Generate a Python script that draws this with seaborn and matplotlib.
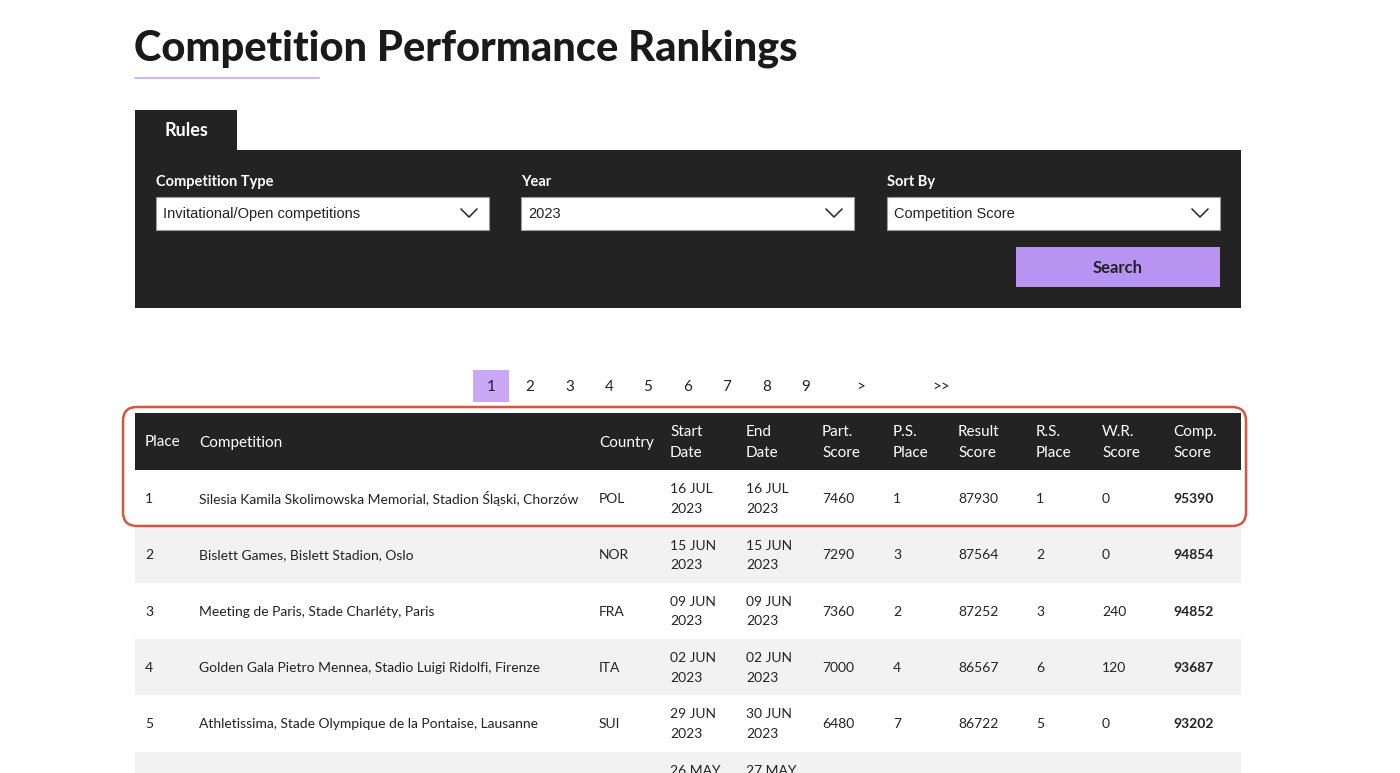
import matplotlib
matplotlib.use("Agg")
import matplotlib.pyplot as plt
from matplotlib.patches import Rectangle, FancyBboxPatch
import seaborn as sns

sns.set_theme(style="white")
plt.rcParams["font.family"] = "Lato"

title = "Competition Performance Rankings"
filter_labels = ["Competition Type", "Year", "Sort By"]
filter_values = ["Invitational/Open competitions", "2023", "Competition Score"]
pages = ["1", "2", "3", "4", "5", "6", "7", "8", "9", ">", ">>"]
headers = ["Place", "Competition", "Country", "Start\nDate", "End\nDate", "Part.\nScore",
           "P.S.\nPlace", "Result\nScore", "R.S.\nPlace", "W.R.\nScore", "Comp.\nScore"]
places = ["1", "2", "3", "4", "5", ""]
competitions = ["Silesia Kamila Skolimowska Memorial, Stadion Śląski, Chorzów",
                "Bislett Games, Bislett Stadion, Oslo",
                "Meeting de Paris, Stade Charléty, Paris",
                "Golden Gala Pietro Mennea, Stadio Luigi Ridolfi, Firenze",
                "Athletissima, Stade Olympique de la Pontaise, Lausanne", ""]
countries = ["POL", "NOR", "FRA", "ITA", "SUI", ""]
start_dates = ["16 JUL\n2023", "15 JUN\n2023", "09 JUN\n2023", "02 JUN\n2023", "29 JUN\n2023", "26 MAY\n2023"]
end_dates = ["16 JUL\n2023", "15 JUN\n2023", "09 JUN\n2023", "02 JUN\n2023", "30 JUN\n2023", "27 MAY\n2023"]
part_scores = ["7460", "7290", "7360", "7000", "6480", ""]
ps_places = ["1", "3", "2", "4", "7", ""]
result_scores = ["87930", "87564", "87252", "86567", "86722", ""]
rs_places = ["1", "2", "3", "6", "5", ""]
wr_scores = ["0", "0", "240", "120", "0", ""]
comp_scores = ["95390", "94854", "94852", "93687", "93202", ""]

DARK = "#232323"
LAV = "#b894f2"

fig = plt.figure(figsize=(14, 7.73), dpi=100)
ax = fig.add_axes([0, 0, 1, 1])
ax.set_xlim(0, 1400)
ax.set_ylim(773, 0)
ax.axis("off")

ax.text(134, 49, title, fontsize=30, fontweight="heavy", color="#1a1a1a", va="center", ha="left")
ax.plot([135, 319], [78, 78], color="#d2b8f2", lw=1.5)

# filter panel
ax.add_patch(Rectangle((135, 110), 102, 42, color=DARK, lw=0))
ax.text(186, 131, "Rules", color="white", fontsize=13, fontweight="bold", ha="center", va="center")
ax.add_patch(Rectangle((135, 150), 1106, 158, color=DARK, lw=0))
for i, x0 in enumerate([156, 521, 887]):
    ax.text(x0, 182, filter_labels[i], color="white", fontsize=10.5, fontweight="bold", va="center")
    ax.add_patch(Rectangle((x0, 197), 333, 33, facecolor="white", edgecolor="#999", lw=0.8))
    ax.text(x0 + 7, 214, filter_values[i], color="#222", fontsize=10.5, va="center",
            family="Liberation Sans")
    cx = x0 + 313
    ax.plot([cx - 8, cx, cx + 8], [209, 217, 209], color="#333", lw=1.2)
ax.add_patch(Rectangle((1016, 247), 204, 40, color=LAV, lw=0))
ax.text(1118, 268, "Search", color="#222", fontsize=12, fontweight="bold", ha="center", va="center")

# pagination
ax.add_patch(Rectangle((473, 370), 36, 32, color="#c9a8f5", lw=0))
for p, x in zip(pages, [491, 530, 570, 609, 648, 688, 727, 767, 806, 861, 941]):
    ax.text(x, 387, p, fontsize=11, color="#222", ha="center", va="center")

# table
col_x = [145, 199, 599, 670, 746, 822, 893, 958, 1036, 1102, 1173]
ax.add_patch(Rectangle((135, 413), 1106, 57, color=DARK, lw=0))
for h, x in zip(headers, col_x):
    ax.text(x, 442.5, h, color="white", fontsize=11, va="center", ha="left", linespacing=1.6)

cols = [places, competitions, countries, start_dates, end_dates, part_scores,
        ps_places, result_scores, rs_places, wr_scores, comp_scores]
for r in range(len(places)):
    y0 = 470 + r * 56.3
    ax.add_patch(Rectangle((135, y0), 1106, 56.3, color="#ffffff" if r % 2 == 0 else "#f2f2f2", lw=0))
    yc = y0 + 29
    for c, (col, x) in enumerate(zip(cols, col_x)):
        ax.text(x, yc, col[r], fontsize=10, color="#222", va="center", ha="left",
                fontweight="bold" if c == 10 else "normal", linespacing=1.75)

# red highlight
ax.add_patch(FancyBboxPatch((123, 407), 1123, 119, boxstyle="round,pad=0,rounding_size=14",
                            facecolor="none", edgecolor="#d8553f", lw=1.8))

fig.savefig("out.png", dpi=100, facecolor="white")
